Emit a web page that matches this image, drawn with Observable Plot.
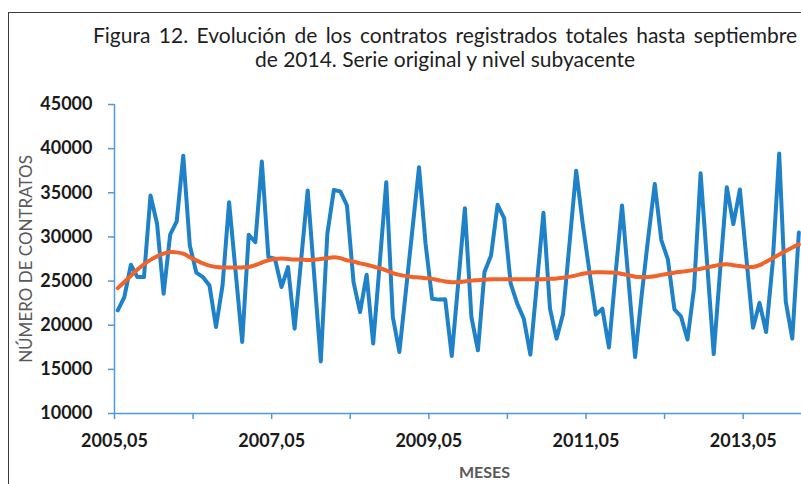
<!DOCTYPE html>
<html>
<head>
<meta charset="utf-8">
<script src="https://cdn.jsdelivr.net/npm/d3@7"></script>
<script src="https://cdn.jsdelivr.net/npm/@observablehq/plot@0.6"></script>
<style>
  html, body { margin: 0; padding: 0; background: #fff; }
  body { width: 801px; height: 484px; overflow: hidden; position: relative; font-family: Lato, "Open Sans", sans-serif; }
  #frame { position: absolute; left: 8px; top: 12px; width: 1000px; height: 700px; border: 1.5px solid #3c3c3c; box-sizing: border-box; }
  #chart { position: absolute; left: 0; top: 0; }
  #title { position: absolute; left: 93px; top: 23px; width: 704px; color: #1e1e1e; font-size: 21px; line-height: 24px; }
  #title .l1 { text-align: justify; text-align-last: justify; white-space: nowrap; }
  #title .l2 { text-align: center; }
</style>
</head>
<body>
<div id="frame"></div>
<div id="chart"></div>
<div id="title">
  <div class="l1">Figura 12. Evolución de los contratos registrados totales hasta septiembre</div>
  <div class="l2">de 2014. Serie original y nivel subyacente</div>
</div>
<script>
// Monthly registered contracts, from 2005,05 onward (original series)
const contratos = [
  21690, 23190, 26850, 25450, 25450, 34690, 31490, 23570, 30250, 31750,
  39200, 29040, 25950, 25450, 24510, 19800, 24510, 33930, 26020, 18100,
  30250, 29400, 38540, 27710, 27530, 24320, 26580, 19610, 27400, 35260,
  25600, 15900, 30360, 35330, 35140, 33560, 24880, 21490, 25720, 17920,
  27000, 36190, 20930, 16970, 23900, 30900, 37890, 29230, 23000, 22900,
  22930, 16510, 24900, 33250, 20930, 17160, 26020, 27900, 33640, 32120,
  24700, 22440, 20740, 16670, 24700, 32730, 21880, 18480, 21310, 29400,
  37500, 31500, 26200, 21200, 21880, 17480, 25700, 33560, 25000, 16400,
  23400, 29900, 36010, 29650, 27450, 21800, 21000, 18380, 24200, 37200,
  27000, 16730, 26400, 35630, 31450, 35380, 27500, 19700, 22530, 19230,
  27000, 39450, 22700, 18480, 30500
];
// Underlying level (trend)
const nivel = [
  24200, 24900, 25600, 26300, 26900, 27400, 27800, 28100, 28280, 28250,
  28100, 27700, 27350, 27000, 26750, 26600, 26550, 26550, 26550, 26550,
  26600, 26800, 27100, 27350, 27500, 27550, 27500, 27450, 27450, 27400,
  27420, 27500, 27600, 27700, 27600, 27350, 27200, 27000, 26850, 26650,
  26450, 26200, 25900, 25700, 25560, 25450, 25400, 25330, 25250, 25100,
  24950, 24880, 24880, 24950, 25050, 25100, 25150, 25200, 25200, 25200,
  25200, 25200, 25200, 25200, 25200, 25200, 25250, 25300, 25380, 25500,
  25650, 25830, 25950, 26000, 26000, 25980, 25950, 25800, 25650, 25500,
  25450, 25450, 25550, 25700, 25830, 25950, 26050, 26150, 26250, 26400,
  26550, 26700, 26850, 26900, 26800, 26700, 26600, 26600, 26800, 27200,
  27600, 28000, 28400, 28800, 29150
];
// x tick labels (one tick per year, label every two years)
const xTickLabels = ["2005,05", "", "2007,05", "", "2009,05", "", "2011,05", "", "2013,05"];
const yTicks = [10000, 15000, 20000, 25000, 30000, 35000, 40000, 45000];
const totalMonths = 113; // 2005,05 .. 2014,09

const serieOriginal = contratos.map((v, i) => ({i, v}));
const serieNivel = nivel.map((v, i) => ({i, v}));
const xTicks = xTickLabels.map((_, k) => 12 * k - 0.5);

const axisColor = "#4f9ad8";
const blue = "#1f82c8";
const orange = "#f0632a";

const chart = Plot.plot({
  width: 801,
  height: 484,
  marginLeft: 114,
  marginRight: -53,
  marginTop: 104,
  marginBottom: 71,
  style: {fontFamily: "Lato, 'Open Sans', sans-serif", background: "transparent", overflow: "visible"},
  x: {domain: [-0.5, totalMonths - 0.5]},
  y: {domain: [10000, 45000]},
  marks: [
    Plot.ruleY([10000], {stroke: axisColor, strokeWidth: 1.5}),
    Plot.ruleX([-0.5], {y1: 10000, y2: 45000, stroke: axisColor, strokeWidth: 1.5}),
    Plot.axisX({
      ticks: xTicks,
      tickFormat: d => xTickLabels[Math.round((d + 0.5) / 12)],
      tickSize: 6, tickPadding: 15, stroke: axisColor, strokeWidth: 1.5,
      fontSize: 18, fontWeight: "bold", fill: "#1a1a1a", label: null
    }),
    Plot.axisY({
      ticks: yTicks, tickFormat: d => String(d),
      tickSize: 6, tickPadding: 16, stroke: axisColor, strokeWidth: 1.5,
      fontSize: 18, fontWeight: "bold", fill: "#1a1a1a", label: null
    }),
    Plot.line(serieOriginal, {x: "i", y: "v", stroke: blue, strokeWidth: 4, strokeLinejoin: "round"}),
    Plot.line(serieNivel, {x: "i", y: "v", stroke: orange, strokeWidth: 4, curve: "catmull-rom"}),
    Plot.text(["NÚMERO DE CONTRATOS"], {frameAnchor: "left", rotate: -90, dx: -88, fontSize: 17, fill: "#595959", textAnchor: "middle"}),
    Plot.text(["MESES"], {frameAnchor: "bottom", dy: 53, lineAnchor: "top", fontSize: 16, fontWeight: "bold", fill: "#595959"})
  ]
});
document.getElementById("chart").appendChild(chart);
</script>
</body>
</html>
